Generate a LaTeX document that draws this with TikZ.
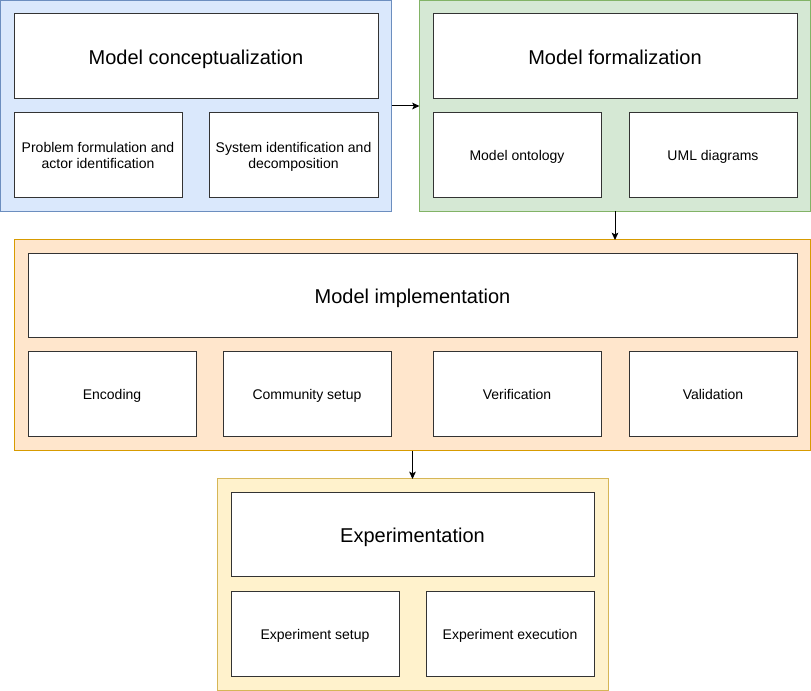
\documentclass[tikz,border=0pt]{standalone}
\usepackage{fontspec}
\setmainfont{Liberation Sans}
\usetikzlibrary{arrows.meta}
\definecolor{bluefill}{HTML}{DAE8FC}\definecolor{bluedraw}{HTML}{6C8EBF}
\definecolor{greenfill}{HTML}{D5E8D4}\definecolor{greendraw}{HTML}{82B366}
\definecolor{orangefill}{HTML}{FFE6CC}\definecolor{orangedraw}{HTML}{D79B00}
\definecolor{yellowfill}{HTML}{FFF2CC}\definecolor{yellowdraw}{HTML}{D6B656}
\definecolor{boxdraw}{HTML}{333333}
\begin{document}
\begin{tikzpicture}[x=0.75pt,y=-0.75pt,
  container/.style={draw, line width=0.75pt, inner sep=0pt, outer sep=0pt, anchor=north west},
  titlebox/.style={draw=boxdraw, fill=white, line width=0.75pt, inner sep=0pt, outer sep=0pt, anchor=north west, minimum height=63.75pt, text height=12pt, text depth=0pt, font=\fontsize{15}{18}\selectfont},
  subbox/.style={draw=boxdraw, fill=white, line width=0.75pt, inner sep=0pt, outer sep=0pt, anchor=north west, minimum width=126pt, minimum height=63.75pt, align=center, text depth=0pt, font=\fontsize{10.5}{12}\selectfont},
  conn/.style={draw=black, line width=0.75pt, -{Stealth[length=5.5pt,width=5pt,inset=1.2pt]}}]
\useasboundingbox (0,0) rectangle (811,691);
% containers
\node[container, fill=bluefill, draw=bluedraw, minimum width=293.25pt, minimum height=158.25pt] (blue) at (0.5,0.5) {};
\node[container, fill=greenfill, draw=greendraw, minimum width=293.25pt, minimum height=158.25pt] (green) at (419.5,0.5) {};
\node[container, fill=orangefill, draw=orangedraw, minimum width=597pt, minimum height=158.25pt] (orange) at (14.5,240) {};
\node[container, fill=yellowfill, draw=yellowdraw, minimum width=293.25pt, minimum height=158.25pt] (yellow) at (217,479) {};
% blue
\node[titlebox, minimum width=273pt] (bt) at (14,14) {Model conceptualization};
\node[subbox] (b1) at (14,113) {Problem formulation and\\actor identification};
\node[subbox, minimum width=126.75pt] (b2) at (209,113) {System identification and\\decomposition};
% green
\node[titlebox, minimum width=273pt] (gt) at (433,14) {Model formalization};
\node[subbox] (g1) at (433,113) {Model ontology};
\node[subbox] (g2) at (629,113) {UML diagrams};
% orange
\node[titlebox, minimum width=576.75pt, minimum height=63pt] (ot) at (28,254) {Model implementation};
\node[subbox] (o1) at (28,352) {Encoding};
\node[subbox] (o2) at (223,352) {Community setup};
\node[subbox] (o3) at (433,352) {Verification};
\node[subbox] (o4) at (629,352) {Validation};
% yellow
\node[titlebox, minimum width=272.25pt, minimum height=63pt] (yt) at (231,493) {Experimentation};
\node[subbox, minimum height=63pt] (y1) at (231,592) {Experiment setup};
\node[subbox, minimum height=63pt] (y2) at (426,592) {Experiment execution};
% connectors
\draw[conn] (blue.east) -- (green.west);
\draw[conn] (green.south) -- (green.south |- orange.north);
\draw[conn] (orange.south) -- (yellow.north);
\end{tikzpicture}
\end{document}
